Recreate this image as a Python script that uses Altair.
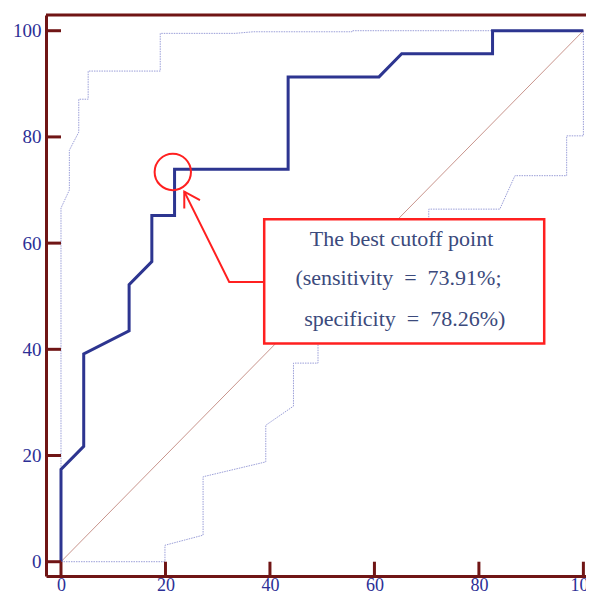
import altair as alt
import pandas as pd

# ROC curve (1 - specificity, sensitivity), in %
roc_x = [0, 0, 4.35, 4.35, 13.04, 13.04, 17.39, 17.39, 21.74, 21.74, 43.48, 43.48, 60.87, 65.22, 82.61, 82.61, 100]
roc_y = [0, 17.39, 21.74, 39.13, 43.48, 52.17, 56.52, 65.22, 65.22, 73.91, 73.91, 91.30, 91.30, 95.65, 95.65, 100, 100]

# upper confidence bound
up_x = [0, 0, 1.6, 1.6, 3.4, 3.4, 5.2, 5.2, 19.0, 19.0, 33.3, 36.8, 55.7, 55.7, 100]
up_y = [0, 66.6, 70.0, 77.5, 80.9, 87.1, 87.1, 92.4, 92.4, 99.5, 99.5, 99.8, 99.8, 100, 100]

# lower confidence bound
lo_x = [0, 19.9, 19.9, 27.2, 27.2, 39.2, 39.2, 44.5, 44.5, 49.2, 49.2, 56, 56, 62, 62, 70.4, 70.4, 84.0, 86.9, 96.8, 96.8, 100, 100]
lo_y = [0, 0, 3.1, 5.0, 16.0, 18.8, 25.7, 29.3, 37.4, 37.4, 47, 50, 56, 59, 62, 62, 66.4, 66.4, 72.7, 72.7, 80.2, 80.2, 100]

diag_x = [0, 100]
diag_y = [0, 100]

ticks = [0, 20, 40, 60, 80, 100]

# annotation
box_x = [38.9, 92.5]
box_y = [41.1, 64.5]
text_lines = ["The best cutoff point",
              "(sensitivity\u00a0\u00a0=\u00a0\u00a073.91%;",
              "\u00a0specificity\u00a0\u00a0=\u00a0\u00a078.26%)"]
text_x = [65.2, 64.6, 65.8]
text_y = [60.7, 53.4, 45.8]
circle_x = [21.4]
circle_y = [73.4]
arrow_x = [38.9, 32.2, 23.6]
arrow_y = [52.7, 52.7, 69.7]
head_x = [26.6, 23.6, 23.6]
head_y = [68.1, 69.7, 66.5]

XMIN, XMAX = -2.87, 100.5
YMIN, YMAX = -2.69, 102.96

FRAME = "#701515"
LABEL = "#2c2f96"
SERIF = "Liberation Serif, Times New Roman, Tinos, DejaVu Serif, serif"

xs = alt.Scale(domain=[XMIN, XMAX], nice=False, zero=False)
ys = alt.Scale(domain=[YMIN, YMAX], nice=False, zero=False)
xaxis = alt.Axis(values=ticks, title=None, grid=False, ticks=True, tickSize=0, tickColor="transparent",
                 domainColor=FRAME, domainWidth=3, labelFont=SERIF, labelFontSize=18,
                 labelColor=LABEL, labelPadding=14, labelBaseline="alphabetic", labelAlign="center",
                 labelFlush=False, labelOverlap=False)
yaxis = alt.Axis(values=ticks, title=None, grid=False, ticks=True, tickSize=0, tickColor="transparent",
                 domainColor=FRAME, domainWidth=3, labelFont=SERIF, labelFontSize=19,
                 labelColor=LABEL, labelPadding=5, labelBaseline="middle", labelAlign="right",
                 labelFlush=False, labelOverlap=False)


def X(f):
    return alt.X(f, type="quantitative", scale=xs, axis=xaxis)


def Y(f):
    return alt.Y(f, type="quantitative", scale=ys, axis=yaxis)


def line_df(xv, yv):
    return pd.DataFrame({"x": xv, "y": yv, "o": list(range(len(xv)))})


BAND = "#9a9ed8"
lower = alt.Chart(line_df(lo_x, lo_y)).mark_line(color=BAND, strokeWidth=1, strokeDash=[1.5, 1]).encode(
    x=X("x"), y=Y("y"), order="o:Q")
upper = alt.Chart(line_df(up_x, up_y)).mark_line(color=BAND, strokeWidth=1, strokeDash=[1.5, 1]).encode(
    x=X("x"), y=Y("y"), order="o:Q")
diag = alt.Chart(line_df(diag_x, diag_y)).mark_line(color="#c8948c", strokeWidth=1).encode(
    x=X("x"), y=Y("y"), order="o:Q")
roc = alt.Chart(line_df(roc_x, roc_y)).mark_line(color="#2d3590", strokeWidth=3, strokeJoin="miter").encode(
    x=X("x"), y=Y("y"), order="o:Q")

left_ticks = alt.Chart(pd.DataFrame({"y": ticks, "a": [XMIN] * 6, "b": [0] * 6})).mark_rule(
    color=FRAME, strokeWidth=3).encode(x=X("a"), x2="b", y=Y("y"))
bottom_ticks = alt.Chart(pd.DataFrame({"x": ticks, "a": [YMIN] * 6, "b": [0] * 6})).mark_rule(
    color=FRAME, strokeWidth=3).encode(y=Y("a"), y2="b", x=X("x"))
top_border = alt.Chart(pd.DataFrame({"a": [XMIN], "b": [XMAX], "y": [YMAX]})).mark_rule(
    color=FRAME, strokeWidth=3).encode(x=X("a"), x2="b", y=Y("y"))

box = alt.Chart(pd.DataFrame({"x": [box_x[0]], "x2": [box_x[1]], "y": [box_y[0]], "y2": [box_y[1]]})).mark_rect(
    fill="white", stroke="#ff2020", strokeWidth=2.5).encode(x=X("x"), x2="x2", y=Y("y"), y2="y2")
txt = alt.Chart(pd.DataFrame({"x": text_x, "y": text_y, "t": text_lines})).mark_text(
    font=SERIF, fontSize=22, color="#3b4a7c", align="center", baseline="middle").encode(
    x=X("x"), y=Y("y"), text="t:N")
circle = alt.Chart(pd.DataFrame({"x": circle_x, "y": circle_y})).mark_point(
    shape="circle", size=1320, filled=False, stroke="#ff2020", strokeWidth=2, opacity=1).encode(
    x=X("x"), y=Y("y"))
arrow = alt.Chart(line_df(arrow_x, arrow_y)).mark_line(color="#ff2020", strokeWidth=2).encode(
    x=X("x"), y=Y("y"), order="o:Q")
head = alt.Chart(line_df(head_x, head_y)).mark_line(color="#ff2020", strokeWidth=2).encode(
    x=X("x"), y=Y("y"), order="o:Q")

chart = alt.layer(
    lower, upper, diag, roc, box, txt, arrow, head, circle, left_ticks, bottom_ticks, top_border
).properties(
    width=540, height=561,
    autosize=alt.AutoSizeParams(type="none"),
    padding={"left": 38, "top": 7, "right": 0, "bottom": 16},
).configure_view(stroke=None).configure(background="white")

chart.save("out.html", embed_options={"renderer": "svg", "actions": False})
